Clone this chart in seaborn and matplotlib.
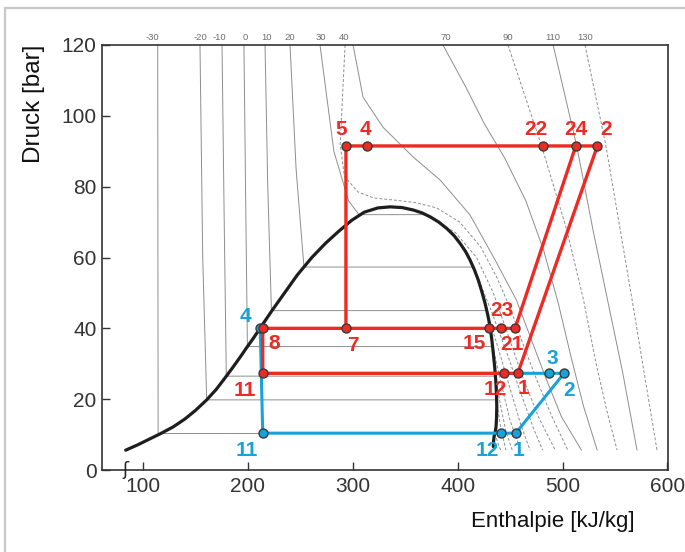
import numpy as np
import pandas as pd
import matplotlib
matplotlib.use("Agg")
import matplotlib.pyplot as plt
from matplotlib.patches import Rectangle
import seaborn as sns

# ---------------- data ----------------
# saturation dome (h in kJ/kg, p in bar)
dome_left_h = [83.6, 95, 106, 117, 129, 140, 150, 160.8, 170, 178, 186, 193, 199, 205.5,
               211.6, 223, 235, 247, 261, 274, 287, 299, 311, 324, 335.6]
dome_left_p = [5.6, 7.1, 8.7, 10.3, 12.2, 14.4, 16.8, 19.8, 22.8, 25.9, 29.1, 32.0, 34.6, 37.3,
               40.0, 45, 50, 55, 60, 64, 67.5, 70.5, 72.8, 74.0, 74.3]
dome_right_h = [335.6, 347, 357.8, 366, 373.7, 382, 389.6, 396.5, 402.3, 407.5, 411.8, 416,
                419.7, 423, 426.1, 428.7, 430.9, 432.6, 434.0, 435.3, 436.3, 437.0, 437.3,
                437.1, 436.6, 435.8, 434.7, 434.2, 434.0]
dome_right_p = [74.3, 74.1, 73.4, 72.6, 71.5, 70.0, 68.2, 66.2, 64.0, 61.7, 59.3, 56.5,
                53.6, 50.4, 47.1, 43.8, 40.5, 36.7, 32.9, 29.1, 25.4, 21.6, 17.9,
                15.0, 12.2, 10.8, 9.4, 8.0, 6.6]

# isotherms (thin grey lines)
iso_m30_h = [114.1, 114.3, 114.5, 435.5, 438.5, 441.0]
iso_m30_p = [120, 60, 10.3, 10.3, 7.5, 5.6]
iso_m20_h = [154.4, 157.0, 160.8, 437.0, 441.0, 446.0]
iso_m20_p = [120, 60, 19.8, 19.8, 12.0, 5.6]
iso_m10_h = [175.4, 177.5, 179.5, 436.1, 441.0, 446.0, 452.0]
iso_m10_p = [120, 70, 26.5, 26.5, 18.0, 11.0, 5.6]
iso_0_h = [196.3, 198.0, 199.6, 433.5, 441.0, 450.0, 460.0]
iso_0_p = [120, 75, 34.85, 34.85, 25.0, 14.0, 5.6]
iso_10_h = [216.4, 219.0, 222.5, 427.5, 438.0, 450.0, 460.0, 469.0]
iso_10_p = [120, 80, 45.0, 45.0, 35.0, 23.0, 13.0, 5.6]
iso_20_h = [240.2, 246.0, 253.5, 415.0, 432.0, 447.0, 461.0, 472.0, 481.0]
iso_20_p = [120, 85, 57.3, 57.3, 45.0, 33.0, 21.0, 12.0, 5.6]
iso_30_h = [268.8, 282.0, 296.0, 306.0, 369.0, 398.0, 418.0, 434.0, 447.0, 461.0, 477.0, 493.0]
iso_30_p = [120, 90, 76.0, 72.1, 72.1, 67.0, 60.0, 50.0, 39.0, 27.0, 15.0, 5.6]
iso_40_h = [292.7, 288.0, 292.0, 305.0, 320.0, 340.0, 360.0, 380.0, 402.0, 422.0, 438.0, 451.0, 463.0, 476.0, 490.0, 505.0]
iso_40_p = [120, 92, 83, 78.5, 76.8, 76.2, 75.5, 74.0, 70.0, 63.0, 54.0, 45.0, 35.0, 25.0, 15.0, 5.6]
iso_50_h = [300.3, 309.8, 328.8, 357.5, 383.2, 411.8, 435.7, 456.0, 470.0, 484.0, 499.0, 518.0]
iso_50_p = [120, 105.3, 96.8, 88.4, 81.9, 72.0, 59.3, 48.0, 37.0, 26.0, 15.0, 5.6]
iso_70_h = [386.0, 408.0, 425.0, 445.0, 465.0, 482.0, 496.0, 508.0, 520.0, 533.0]
iso_70_p = [120, 108, 98, 88, 76, 62, 47, 32, 18, 5.6]
iso_90_h = [448.0, 480.0, 504.0, 520.0, 532.0, 542.0, 552.0]
iso_90_p = [120, 91.5, 67.8, 48.0, 30.0, 17.0, 5.6]
iso_110_h = [491.0, 513.5, 529.0, 545.0, 557.0, 571.0]
iso_110_p = [120, 91.5, 67.8, 45.0, 28.0, 5.6]
iso_130_h = [521.4, 541.0, 555.0, 568.0, 578.0, 590.0]
iso_130_p = [120, 92.0, 67.8, 45.0, 27.0, 5.6]

# temperature labels along the top
temp_labels = ['-30', '-20', '-10', '0', '10', '20', '30', '40', '70', '90', '110', '130']
temp_label_h = [109.4, 154.5, 172.6, 197.6, 217.6, 240.4, 269.7, 291.7, 388.4, 448.0, 490.4, 521.6]

# red cycle state points
red_names = ['5', '4', '22', '24', '2', '7', '8', '15', '23', '21', '12', '1', '11']
red_h = [293.5, 313.3, 481.7, 512.6, 533.2, 293.5, 214.2, 429.9, 441.1, 454.7, 444.2, 457.3, 214.2]
red_p = [91.5, 91.5, 91.5, 91.5, 91.5, 40.0, 40.0, 40.0, 40.0, 40.0, 27.3, 27.3, 27.3]
red_path_a = ['11', '1', '2', '5', '7']
red_path_b = ['11', '8', '21', '24']

# blue cycle state points
blue_names = ['4', '11', '12', '1', '2', '3']
blue_h = [211.8, 214.2, 441.4, 455.4, 501.4, 487.4]
blue_p = [40.0, 10.4, 10.4, 10.4, 27.3, 27.3]

x_ticks = [100, 200, 300, 400, 500, 600]
y_ticks = [0, 20, 40, 60, 80, 100, 120]

# ---------------- style ----------------
RED = '#ee2a24'
BLUE = '#17a2dc'
GREY = '#8e8e8e'
EDGE = '#3a3a3a'

sns.set_theme(style='white')
plt.rcParams['font.family'] = ['Liberation Sans', 'DejaVu Sans']

fig = plt.figure(figsize=(6.85, 5.52), dpi=100)
ax = fig.add_axes([102 / 685, 1 - 470 / 552, 566 / 685, 425 / 552])

# isotherms
isotherms = [
    (iso_m30_h, iso_m30_p, '-'), (iso_m20_h, iso_m20_p, '-'), (iso_m10_h, iso_m10_p, '-'),
    (iso_0_h, iso_0_p, '-'), (iso_10_h, iso_10_p, '-'), (iso_20_h, iso_20_p, '-'),
    (iso_30_h, iso_30_p, '-'), (iso_40_h, iso_40_p, '--'), (iso_50_h, iso_50_p, '-'),
    (iso_70_h, iso_70_p, '-'), (iso_90_h, iso_90_p, '--'), (iso_110_h, iso_110_p, '-'),
    (iso_130_h, iso_130_p, '--'),
]
for h, p, ls in isotherms:
    split = None
    for i in range(1, len(p)):
        if p[i] == p[i - 1]:
            split = i
    if split is None:
        if ls == '-':
            sns.lineplot(x=h, y=p, sort=False, estimator=None, ax=ax, color=GREY,
                         linewidth=0.7, zorder=1)
        else:
            ax.plot(h, p, color=GREY, linewidth=0.7, linestyle=(0, (3, 2)), zorder=1)
    else:
        sns.lineplot(x=h[:split + 1], y=p[:split + 1], sort=False, estimator=None, ax=ax,
                     color=GREY, linewidth=0.7, zorder=1)
        ax.plot(h[split:], p[split:], color=GREY, linewidth=0.7, linestyle=(0, (3, 2)), zorder=1)

# saturation dome
dome_h = dome_left_h + dome_right_h[1:]
dome_p = dome_left_p + dome_right_p[1:]
sns.lineplot(x=dome_h, y=dome_p, sort=False, estimator=None, ax=ax, color='#1e1e1e',
             linewidth=2.3, zorder=2)

red_lookup = {n: (h, p) for n, h, p in zip(red_names, red_h, red_p)}
blue_lookup = {n: (h, p) for n, h, p in zip(blue_names, blue_h, blue_p)}

# blue cycle lines
blue_path = [blue_lookup[n] for n in ['4', '11', '12', '1', '2', '3']] + [red_lookup['1']]
sns.lineplot(x=[q[0] for q in blue_path], y=[q[1] for q in blue_path], sort=False,
             estimator=None, ax=ax, color=BLUE, linewidth=2.2, zorder=3)

# red cycle lines
for path in (red_path_a, red_path_b):
    pts = [red_lookup[n] for n in path]
    sns.lineplot(x=[q[0] for q in pts], y=[q[1] for q in pts], sort=False,
                 estimator=None, ax=ax, color=RED, linewidth=2.4, zorder=4)

# markers
sns.scatterplot(x=blue_h, y=blue_p, ax=ax, s=42, color=BLUE, edgecolor=EDGE,
                linewidth=1.0, zorder=5, legend=False)
sns.scatterplot(x=red_h, y=red_p, ax=ax, s=42, color=RED, edgecolor=EDGE,
                linewidth=1.0, zorder=6, legend=False)

# point labels (offsets in pixels)
red_offsets = {'5': (-5, 16), '4': (-1, 16), '22': (-7, 16), '24': (0, 16), '2': (9, 16),
               '7': (7, -17), '8': (11, -15), '15': (-15, -15), '23': (1, 18),
               '21': (-3, -16), '12': (-9, -16), '1': (6, -15), '11': (-18, -17)}
blue_offsets = {'4': (-15, 12), '11': (-16, -17), '12': (-14, -17), '1': (3, -17),
                '3': (3, 15), '2': (5, -17)}
for n, h, p in zip(red_names, red_h, red_p):
    ax.annotate(n, (h, p), xytext=red_offsets[n], textcoords='offset pixels',
                ha='center', va='center', color=RED, fontsize=15, fontweight='bold', zorder=7)
for n, h, p in zip(blue_names, blue_h, blue_p):
    ax.annotate(n, (h, p), xytext=blue_offsets[n], textcoords='offset pixels',
                ha='center', va='center', color=BLUE, fontsize=15, fontweight='bold', zorder=7)

# top temperature labels
for t, h in zip(temp_labels, temp_label_h):
    ax.annotate(t, (h, 120), xytext=(0, 8), textcoords='offset pixels', ha='center',
                va='center', color='#6e6e6e', fontsize=6.8, annotation_clip=False)

# axes
ax.set_xlim(61, 600.5)
ax.set_ylim(0, 120)
ax.set_xticks(x_ticks)
ax.set_yticks(y_ticks)
ax.tick_params(axis='both', direction='in', length=6, width=1, color='#333333',
               labelcolor='#333333', labelsize=15, bottom=True, left=True)
ax.tick_params(axis='x', pad=5)
ax.tick_params(axis='y', pad=4)
for s in ax.spines.values():
    s.set_color('#333333')
    s.set_linewidth(1.2)

ax.set_xlabel('Enthalpie [kJ/kg]', fontsize=16, color='#111111')
ax.xaxis.set_label_coords((553 - 102) / 566, (470 - 521) / 425)
ax.xaxis.label.set_va('center')
ax.set_ylabel('Druck [bar]', fontsize=17.5, color='#111111')
ax.yaxis.set_label_coords((34 - 102) / 566, (470 - 104) / 425)
ax.yaxis.label.set_va('center')

# axis break mark
ax.text(83, 0, 'ʃ', ha='center', va='center', fontsize=13, color='#222222',
        family='DejaVu Sans', zorder=8, clip_on=False)

# light frame around the picture
fig.patches.append(Rectangle((5 / 685, -0.1), 1.2, 1 - 8 / 552 + 0.1, transform=fig.transFigure,
                             fill=False, edgecolor='#c8c8c8', linewidth=1.6))

fig.savefig('out.png', dpi=100)
